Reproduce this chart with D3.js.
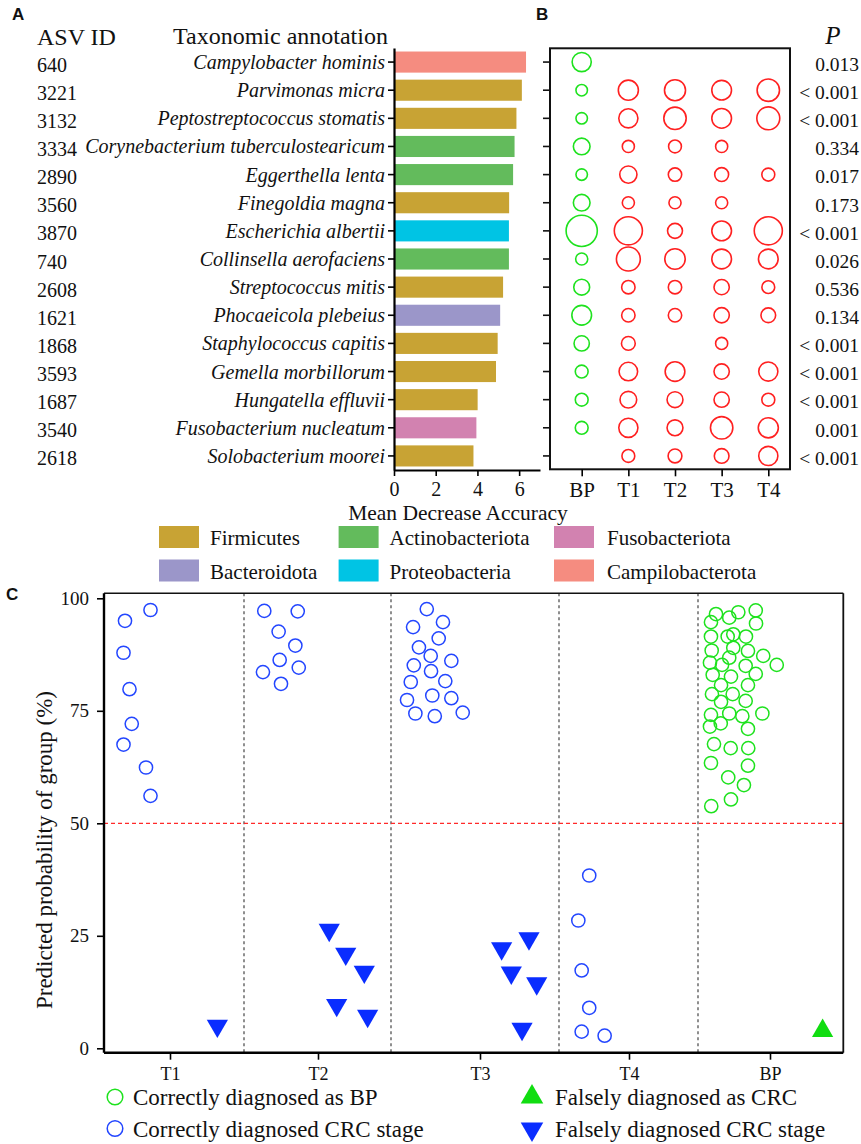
<!DOCTYPE html>
<html>
<head>
<meta charset="utf-8">
<script src="https://cdn.jsdelivr.net/npm/d3@7"></script>
<style>
  html, body { margin: 0; padding: 0; background: #fff; }
  svg { display: block; }
  text { font-family: "Liberation Serif", "Times New Roman", serif; fill: #111; }
  .tick text { font-family: "Liberation Serif", "Times New Roman", serif; }
  .letter { font-family: "Liberation Sans", Arial, sans-serif; font-weight: bold; font-size: 17px; }
</style>
</head>
<body>
<svg id="chart" width="861" height="1144"></svg>
<script>
// ---------------- DATA ----------------
// Panel A: random forest importance
const asvIds = ["640","3221","3132","3334","2890","3560","3870","740","2608","1621","1868","3593","1687","3540","2618"];
const species = ["Campylobacter hominis","Parvimonas micra","Peptostreptococcus stomatis","Corynebacterium tuberculostearicum",
  "Eggerthella lenta","Finegoldia magna","Escherichia albertii","Collinsella aerofaciens","Streptococcus mitis",
  "Phocaeicola plebeius","Staphylococcus capitis","Gemella morbillorum","Hungatella effluvii","Fusobacterium nucleatum","Solobacterium moorei"];
const meanDecreaseAccuracy = [6.33, 6.13, 5.87, 5.78, 5.71, 5.52, 5.51, 5.51, 5.23, 5.09, 4.97, 4.89, 4.01, 3.95, 3.81];
const phylum = ["Campilobacterota","Firmicutes","Firmicutes","Actinobacteriota","Actinobacteriota","Firmicutes","Proteobacteria",
  "Actinobacteriota","Firmicutes","Bacteroidota","Firmicutes","Firmicutes","Firmicutes","Fusobacteriota","Firmicutes"];
const phylaLegend = ["Firmicutes","Actinobacteriota","Fusobacteriota","Bacteroidota","Proteobacteria","Campilobacterota"];
const phylaColors = ["#c8a334","#63bb5c","#d282b0","#9b96c9","#00c4e4","#f58c80"];
const xTicksA = [0, 2, 4, 6];

// Panel B: relative abundance by group (null = not detected)
const groupsB = ["BP","T1","T2","T3","T4"];
const abundBP = [1.00, 0.36, 0.36, 0.76, 0.36, 0.76, 2.66, 0.40, 0.69, 1.06, 0.64, 0.45, 0.45, 0.45, null];
const abundT1 = [null, 1.10, 1.00, 0.40, 0.81, 0.40, 2.16, 1.56, 0.49, 0.49, 0.52, 0.94, 0.76, 1.00, 0.45];
const abundT2 = [null, 1.21, 1.37, 0.45, 0.49, 0.40, 0.61, 1.14, 0.49, 0.49, null, 1.06, 0.69, 0.69, 0.52];
const abundT3 = [null, 1.06, 1.06, 0.40, 0.53, 0.40, 1.06, 1.06, 0.64, 0.64, 0.40, 0.64, 0.64, 1.37, 0.59];
const abundT4 = [null, 1.37, 1.44, null, 0.46, null, 2.16, 1.06, 0.45, 0.59, null, 1.00, 0.46, 1.10, 1.00];
const pValues = ["0.013","< 0.001","< 0.001","0.334","0.017","0.173","< 0.001","0.026","0.536","0.134","< 0.001","< 0.001","< 0.001","0.001","< 0.001"];

// Panel C: predicted probability (jitter in category units)
const groupsC = ["T1","T2","T3","T4","BP"];
const yTicksC = [0, 25, 50, 75, 100];
const t1Prob   = [97.4, 95.0, 87.9, 79.8, 72.1, 67.5, 62.4, 56.1];
const t1Jitter = [-0.13, -0.30, -0.31, -0.27, -0.255, -0.31, -0.16, -0.13];
const t2Prob   = [97.2, 97.1, 92.6, 89.5, 86.3, 83.6, 84.6, 81.0];
const t2Jitter = [-0.363, -0.137, -0.266, -0.153, -0.259, -0.372, -0.130, -0.250];
const t3Prob   = [97.6, 94.7, 93.6, 91.1, 89.1, 87.2, 86.1, 85.1, 83.8, 81.6, 81.4, 78.4, 77.8, 77.4, 74.4, 73.8, 74.6];
const t3Jitter = [-0.299, -0.208, -0.376, -0.232, -0.343, -0.277, -0.161, -0.372, -0.275, -0.195, -0.389, -0.268, -0.161, -0.410, -0.363, -0.254, -0.097];
const t4Prob   = [38.4, 28.4, 17.3, 9.0, 3.7, 2.8];
const t4Jitter = [-0.284, -0.362, -0.338, -0.284, -0.338, -0.174];
const bpProb   = [96.5, 95.7, 96.9, 97.3, 94.7, 94.4, 91.5, 91.5, 92.0, 91.5, 88.4, 89.0, 88.3, 87.2, 85.2, 85.7, 85.2, 86.8, 85.0, 83.2,
                  83.0, 82.6, 80.7, 80.7, 78.7, 78.7, 77.0, 77.2, 74.1, 74.4, 73.8, 74.4, 72.2, 71.5, 71.0, 67.6, 66.7, 66.7, 63.4, 62.8,
                  60.2, 58.5, 55.3, 53.8];
const bpJitter = [-0.375, -0.283, -0.220, -0.099, -0.410, -0.097, -0.410, -0.294, -0.255, -0.167, -0.405, -0.255, -0.153, -0.047, 0.045,
                  -0.417, -0.333, -0.283, -0.169, -0.099, -0.398, -0.271, -0.340, -0.153, -0.403, -0.259, -0.340, -0.169, -0.410, -0.283,
                  -0.192, -0.053, -0.342, -0.417, -0.153, -0.389, -0.273, -0.151, -0.410, -0.153, -0.290, -0.181, -0.271, -0.408];
// falsely diagnosed CRC stage (blue, down triangles)
const falseStageGroup  = ["T1","T2","T2","T2","T2","T2","T3","T3","T3","T3","T3"];
const falseStageProb   = [5.0, 26.3, 21.0, 17.0, 9.6, 7.2, 22.2, 24.4, 16.8, 14.4, 4.3];
const falseStageJitter = [0.32, 0.077, 0.190, 0.317, 0.128, 0.340, 0.137, 0.310, 0.198, 0.359, 0.266];
// falsely diagnosed as CRC (green, up triangle)
const falseCRCGroup  = ["BP"];
const falseCRCProb   = [3.9];
const falseCRCJitter = [0.351];
const legendC = ["Correctly diagnosed as BP","Correctly diagnosed CRC stage","Falsely diagnosed as CRC","Falsely diagnosed CRC stage"];

// ---------------- DRAW ----------------
const svg = d3.select("#chart");
svg.append("rect").attr("width", 861).attr("height", 1144).attr("fill", "#fff");

const GREEN = "#1ee21e", RED = "#ff2020", BLUE = "#2346ff", BLUEFILL = "#0a2dff";
const SERIF = '"Liberation Serif", "Times New Roman", serif';
const phylaColor = d3.scaleOrdinal().domain(phylaLegend).range(phylaColors);

// Panel letters
svg.append("text").attr("class", "letter").attr("x", 12).attr("y", 20).text("A");
svg.append("text").attr("class", "letter").attr("x", 536).attr("y", 20).text("B");
svg.append("text").attr("class", "letter").attr("x", 6).attr("y", 600).text("C");

// ---- Panel A ----
const yA = d3.scaleBand().domain(asvIds).range([48, 470]).paddingInner(0.25).paddingOuter(0.125);
const xA = d3.scaleLinear().domain([0, 7]).range([394, 540]);

svg.append("text").attr("x", 37).attr("y", 45).style("font-size", "24px").text("ASV ID");
svg.append("text").attr("x", 173).attr("y", 43.5).style("font-size", "24px").text("Taxonomic annotation");

const gA = svg.append("g");
gA.selectAll("rect.bar").data(asvIds).join("rect").attr("class", "bar")
  .attr("x", xA(0)).attr("y", d => yA(d))
  .attr("width", (d, i) => xA(meanDecreaseAccuracy[i]) - xA(0))
  .attr("height", yA.bandwidth())
  .attr("fill", (d, i) => phylaColor(phylum[i]));

const yAxisA = gA.append("g").attr("transform", `translate(${xA(0)},0)`)
  .call(d3.axisLeft(yA).tickSize(6).tickSizeOuter(0).tickFormat(""));
yAxisA.select(".domain").attr("stroke-width", 2.2);
yAxisA.selectAll(".tick line").attr("stroke-width", 1.6);

const xAxisA = gA.append("g").attr("transform", "translate(0,470)")
  .call(d3.axisBottom(xA).tickValues(xTicksA).tickFormat(d3.format("d")).tickSize(6).tickSizeOuter(0).tickPadding(6));
xAxisA.select(".domain").attr("stroke-width", 2.2);
xAxisA.selectAll(".tick line").attr("stroke-width", 1.6);
xAxisA.selectAll(".tick text").style("font-size", "20px").style("font-family", SERIF).attr("fill", "#111");
svg.append("text").attr("x", 458).attr("y", 520).attr("text-anchor", "middle").style("font-size", "21.5px").text("Mean Decrease Accuracy");

gA.selectAll("text.sp").data(asvIds).join("text").attr("class", "sp")
  .attr("x", xA(0) - 9).attr("y", d => yA(d) + yA.bandwidth() / 2)
  .attr("dy", "0.35em").attr("text-anchor", "end")
  .style("font-size", "20px").style("font-style", "italic")
  .text((d, i) => species[i]);

gA.selectAll("text.asv").data(asvIds).join("text").attr("class", "asv")
  .attr("x", 37).attr("y", d => yA(d) + yA.bandwidth() / 2 + 2.5)
  .attr("dy", "0.35em").style("font-size", "20px").text(d => d);

// Legend A
const legA = svg.append("g");
const legCols = [159, 338.6, 554];
const legRows = [526, 559.5];
phylaLegend.forEach((p, i) => {
  const cx = legCols[i % 3], cy = legRows[Math.floor(i / 3)];
  legA.append("rect").attr("x", cx).attr("y", cy).attr("width", 40).attr("height", 22).attr("fill", phylaColor(p));
  legA.append("text").attr("x", cx + (i % 3 === 2 ? 53 : 51)).attr("y", cy + 12).attr("dy", "0.35em")
    .style("font-size", "21px").text(p);
});

// ---- Panel B ----
const xB = d3.scalePoint().domain(groupsB).range([581.7, 768.3]);
const rB = d3.scaleSqrt().domain([0, 2.66]).range([0, 15.6]);
const abundByGroup = [abundBP, abundT1, abundT2, abundT3, abundT4];
const bubbles = [];
asvIds.forEach((id, i) => {
  groupsB.forEach((g, j) => {
    const v = abundByGroup[j][i];
    if (v != null) bubbles.push({ id, g, v });
  });
});
const gB = svg.append("g");
gB.append("rect").attr("x", 550).attr("y", 48.3).attr("width", 240).attr("height", 421)
  .attr("fill", "none").attr("stroke", "#111").attr("stroke-width", 2);
gB.selectAll("line.yt").data(asvIds).join("line").attr("class", "yt")
  .attr("x1", 543).attr("x2", 550)
  .attr("y1", d => yA(d) + yA.bandwidth() / 2).attr("y2", d => yA(d) + yA.bandwidth() / 2)
  .attr("stroke", "#111").attr("stroke-width", 1.6);
const xAxisB = gB.append("g").attr("transform", "translate(0,469.3)")
  .call(d3.axisBottom(xB).tickSize(7).tickSizeOuter(0).tickPadding(6));
xAxisB.select(".domain").remove();
xAxisB.selectAll(".tick line").attr("stroke-width", 1.6);
xAxisB.selectAll(".tick text").style("font-size", "21px").style("font-family", SERIF).attr("fill", "#111");

gB.selectAll("circle").data(bubbles).join("circle")
  .attr("cx", d => xB(d.g)).attr("cy", d => yA(d.id) + yA.bandwidth() / 2)
  .attr("r", d => rB(d.v))
  .attr("fill", "none").attr("stroke", d => d.g === "BP" ? GREEN : RED).attr("stroke-width", 1.6);

svg.append("text").attr("x", 833).attr("y", 44).attr("text-anchor", "middle")
  .style("font-size", "25px").style("font-style", "italic").text("P");
svg.selectAll("text.pv").data(asvIds).join("text").attr("class", "pv")
  .attr("x", 859).attr("y", d => yA(d) + yA.bandwidth() / 2 + 2)
  .attr("dy", "0.35em").attr("text-anchor", "end").style("font-size", "19.5px")
  .text((d, i) => pValues[i]);

// ---- Panel C ----
const xC = d3.scaleLinear()
  .domain([-0.44, 0, 0.5, 1, 1.5, 2, 2.5, 3, 3.5, 4, 4.487])
  .range([104, 170, 244, 318, 391, 480, 559, 629, 698, 770, 843]);
const yC = d3.scaleLinear().domain([0, 100]).range([1048.3, 598.3]);
const gi = g => groupsC.indexOf(g);
const cTop = 593.3, cBottom = 1052.7, cLeft = 104, cRight = 843.3;

const gC = svg.append("g");
// dividers
gC.selectAll("line.div").data([0.5, 1.5, 2.5, 3.5]).join("line").attr("class", "div")
  .attr("x1", d => xC(d)).attr("x2", d => xC(d)).attr("y1", cTop).attr("y2", cBottom)
  .attr("stroke", "#333").attr("stroke-width", 1.1).attr("stroke-dasharray", "3,3");
// 50% threshold
gC.append("line").attr("x1", cLeft).attr("x2", cRight).attr("y1", yC(50)).attr("y2", yC(50))
  .attr("stroke", "#ff2a2a").attr("stroke-width", 1.3).attr("stroke-dasharray", "4,3");

// box top/right
gC.append("line").attr("x1", cLeft).attr("x2", cRight).attr("y1", cTop).attr("y2", cTop).attr("stroke", "#111").attr("stroke-width", 1.6);
gC.append("line").attr("x1", cRight).attr("x2", cRight).attr("y1", cTop).attr("y2", cBottom).attr("stroke", "#111").attr("stroke-width", 1.8);

const yAxisC = gC.append("g").attr("transform", `translate(${cLeft},0)`)
  .call(d3.axisLeft(yC).tickValues(yTicksC).tickSize(7).tickSizeOuter(0).tickPadding(8));
yAxisC.select(".domain").attr("d", `M0,${cTop}V${cBottom}`).attr("stroke-width", 2.4);
yAxisC.selectAll(".tick line").attr("stroke-width", 1.6);
yAxisC.selectAll(".tick text").style("font-size", "19px").style("font-family", SERIF)
  .attr("fill", d => d === 50 ? "#ff2222" : "#111");

const xAxisC = gC.append("g").attr("transform", `translate(0,${cBottom})`)
  .call(d3.axisBottom(xC).tickValues(groupsC.map((g, i) => i)).tickFormat(i => groupsC[i]).tickSize(7).tickSizeOuter(0).tickPadding(7.5));
xAxisC.select(".domain").attr("d", `M${cLeft},0H${cRight}`).attr("stroke-width", 2.4);
xAxisC.selectAll(".tick line").attr("stroke-width", 1.6);
xAxisC.selectAll(".tick text").style("font-size", "18px").style("font-family", SERIF).attr("fill", "#111");

svg.append("text").attr("transform", "translate(52,850) rotate(-90)").attr("text-anchor", "middle")
  .style("font-size", "23px").text("Predicted probability of group (%)");

// correct points
const correctPts = [];
[[t1Prob, t1Jitter, "T1"], [t2Prob, t2Jitter, "T2"], [t3Prob, t3Jitter, "T3"], [t4Prob, t4Jitter, "T4"], [bpProb, bpJitter, "BP"]]
  .forEach(([p, j, g]) => p.forEach((v, k) => correctPts.push({ g, v, j: j[k] })));
gC.selectAll("circle.pt").data(correctPts).join("circle").attr("class", "pt")
  .attr("cx", d => xC(gi(d.g) + d.j)).attr("cy", d => yC(d.v)).attr("r", 6.6)
  .attr("fill", "none").attr("stroke", d => d.g === "BP" ? GREEN : BLUE).attr("stroke-width", 1.5);

const tri = d3.symbol().type(d3.symbolTriangle).size(195);
gC.selectAll("path.fs").data(falseStageProb).join("path").attr("class", "fs")
  .attr("d", tri)
  .attr("transform", (v, k) => `translate(${xC(gi(falseStageGroup[k]) + falseStageJitter[k])},${yC(v)}) rotate(180)`)
  .attr("fill", BLUEFILL);
gC.selectAll("path.fc").data(falseCRCProb).join("path").attr("class", "fc")
  .attr("d", tri)
  .attr("transform", (v, k) => `translate(${xC(gi(falseCRCGroup[k]) + falseCRCJitter[k])},${yC(v)})`)
  .attr("fill", "#11dd11");

// Legend C
const legC = svg.append("g");
const lcPos = [[115, 1097], [115, 1128.5], [532, 1097], [532, 1129]];
legendC.forEach((t, i) => {
  const [lx, ly] = lcPos[i];
  if (i < 2) {
    legC.append("circle").attr("cx", lx).attr("cy", ly).attr("r", 7.8).attr("fill", "none")
      .attr("stroke", i === 0 ? GREEN : BLUE).attr("stroke-width", 1.5);
    legC.append("text").attr("x", 133).attr("y", ly).attr("dy", "0.35em").style("font-size", "23px").text(t);
  } else {
    legC.append("path").attr("d", d3.symbol().type(d3.symbolTriangle).size(220))
      .attr("transform", `translate(${lx},${ly}) ${i === 3 ? "rotate(180)" : ""}`)
      .attr("fill", i === 2 ? "#11dd11" : BLUEFILL);
    legC.append("text").attr("x", 555).attr("y", ly).attr("dy", "0.35em").style("font-size", "23px").text(t);
  }
});
</script>
</body>
</html>
